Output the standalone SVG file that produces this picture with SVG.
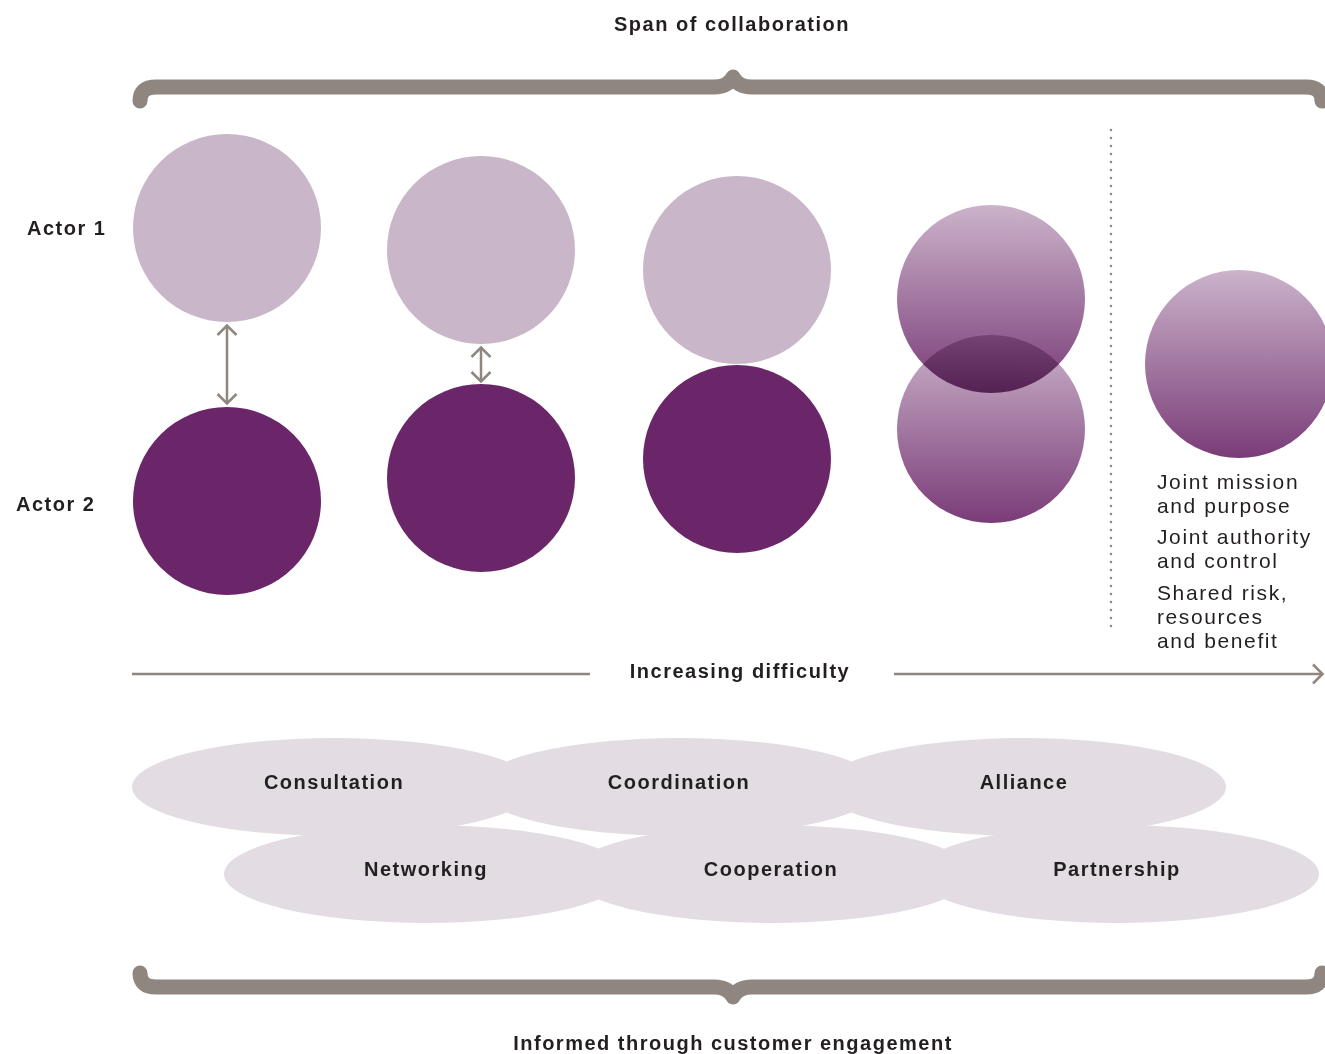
<svg xmlns="http://www.w3.org/2000/svg" width="1325" height="1054" viewBox="0 0 1325 1054">
<style>
.t{font-family:"Liberation Sans",Arial,sans-serif;fill:#231f20}
.b{font-weight:bold;font-size:20px;letter-spacing:1.5px}
.r{font-size:21px;letter-spacing:1.6px}
.light{fill:#c9b6c9}
.dark{fill:#6b2669}
.el{fill:#e3dde3}
.brace{fill:none;stroke:#8f8680;stroke-width:15;stroke-linecap:round;stroke-linejoin:round}
.ln{fill:none;stroke:#8f8680;stroke-width:2.5}
</style>
<defs>
<linearGradient id="g" x1="0" y1="0" x2="0" y2="1">
<stop offset="0" stop-color="#6b2669" stop-opacity="0.35"/>
<stop offset="1" stop-color="#6b2669" stop-opacity="0.9"/>
</linearGradient>
<marker id="ah" viewBox="0 0 13 22" refX="11.5" refY="11" markerWidth="13" markerHeight="22" markerUnits="userSpaceOnUse" orient="auto-start-reverse">
<path d="M1.5 1.5 L11 11 L1.5 20.5" fill="none" stroke="#8f8680" stroke-width="2.5"/>
</marker>
</defs>
<rect width="1325" height="1054" fill="#fff"/>

<text class="t b" x="732" y="31" text-anchor="middle">Span of collaboration</text>
<path class="brace" d="M140 101 Q140 87 156 87 L714 87 Q728 87 733 77 Q738 87 752 87 L1306 87 Q1322 87 1322 101"/>

<g id="actor-labels">
<text class="t b" x="27" y="235">Actor 1</text>
<text class="t b" x="16" y="511">Actor 2</text>
</g>

<g id="col1">
<circle class="light" cx="227" cy="228" r="94"/>
<circle class="dark" cx="227" cy="501" r="94"/>
</g>
<g id="col2">
<circle class="light" cx="481" cy="250" r="94"/>
<circle class="dark" cx="481" cy="478" r="94"/>
</g>
<g id="col3">
<circle class="light" cx="737" cy="270" r="94"/>
<circle class="dark" cx="737" cy="459" r="94"/>
</g>
<g id="col4">
<circle fill="url(#g)" cx="991" cy="429" r="94"/>
<circle fill="url(#g)" cx="991" cy="299" r="94" style="mix-blend-mode:multiply"/>
</g>
<g id="col5">
<circle fill="url(#g)" cx="1239" cy="364" r="94"/>
</g>

<g id="connectors">
<line class="ln" x1="227" y1="325" x2="227" y2="404" marker-start="url(#ah)" marker-end="url(#ah)"/>
<line class="ln" x1="481" y1="347" x2="481" y2="382" marker-start="url(#ah)" marker-end="url(#ah)"/>
<line class="ln" x1="132" y1="674" x2="590" y2="674"/>
<line class="ln" x1="894" y1="674" x2="1323" y2="674" marker-end="url(#ah)"/>
<line x1="1111" y1="130" x2="1111" y2="632" stroke="#8f8680" stroke-width="2.5" stroke-dasharray="0.1 7.9" stroke-linecap="round"/>
</g>

<g id="features">
<text class="t r" x="1157" y="489">Joint mission</text>
<text class="t r" x="1157" y="513">and purpose</text>
<text class="t r" x="1157" y="544">Joint authority</text>
<text class="t r" x="1157" y="568">and control</text>
<text class="t r" x="1157" y="600">Shared risk,</text>
<text class="t r" x="1157" y="624">resources</text>
<text class="t r" x="1157" y="648">and benefit</text>
</g>

<text class="t b" x="740" y="678" text-anchor="middle">Increasing difficulty</text>

<g id="ellipses-bottom">
<g id="networking"><ellipse class="el" cx="426" cy="874" rx="202" ry="49"/></g>
<g id="cooperation"><ellipse class="el" cx="771" cy="874" rx="202" ry="49"/></g>
<g id="partnership"><ellipse class="el" cx="1117" cy="874" rx="202" ry="49"/></g>
</g>
<g id="ellipses-top">
<g id="consultation"><ellipse class="el" cx="334" cy="787" rx="202" ry="49"/></g>
<g id="coordination"><ellipse class="el" cx="679" cy="787" rx="202" ry="49"/></g>
<g id="alliance"><ellipse class="el" cx="1024" cy="787" rx="202" ry="49"/></g>
</g>
<g id="ellipse-labels">
<text class="t b" x="334" y="789" text-anchor="middle">Consultation</text>
<text class="t b" x="679" y="789" text-anchor="middle">Coordination</text>
<text class="t b" x="1024" y="789" text-anchor="middle">Alliance</text>
<text class="t b" x="426" y="876" text-anchor="middle">Networking</text>
<text class="t b" x="771" y="876" text-anchor="middle">Cooperation</text>
<text class="t b" x="1117" y="876" text-anchor="middle">Partnership</text>
</g>

<path class="brace" d="M140 973 Q140 987 156 987 L714 987 Q728 987 733 997 Q738 987 752 987 L1306 987 Q1322 987 1322 973"/>
<text class="t b" x="733" y="1050" text-anchor="middle">Informed through customer engagement</text>
</svg>
